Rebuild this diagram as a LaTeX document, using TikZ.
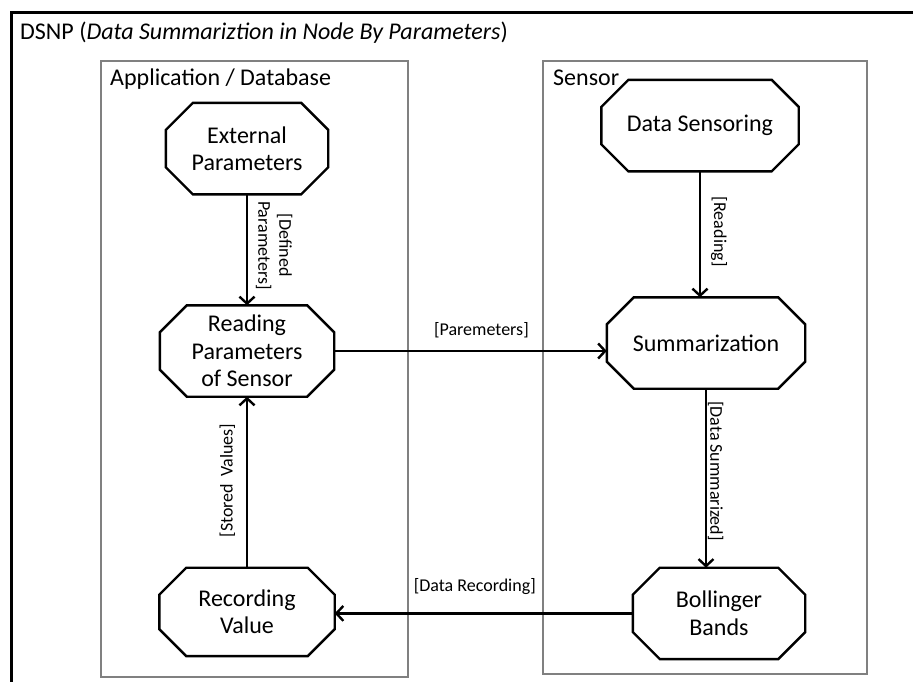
\documentclass[tikz,border=0pt]{standalone}
\usepackage{fontspec}
\setmainfont{Carlito}
\usetikzlibrary{positioning,arrows.meta}

% octagon drawn round a named rectangle node
\newcommand{\drawoct}[1]{%
  \draw[outline] ([xshift=27pt]#1.north west) -- ([xshift=-27pt]#1.north east)
    -- ([yshift=-27pt]#1.north east) -- ([yshift=27pt]#1.south east)
    -- ([xshift=-27pt]#1.south east) -- ([xshift=27pt]#1.south west)
    -- ([yshift=27pt]#1.south west) -- ([yshift=-27pt]#1.north west) -- cycle;}

\begin{document}
\begin{tikzpicture}[x=1pt,y=-1pt]
    \tikzstyle{state}=[rectangle, minimum height=91pt, inner sep=0pt, align=center, font=\fontsize{24}{27.5}\selectfont]
    \tikzstyle{outline}=[line width=2.4pt, line join=miter]
    \tikzstyle{connect}=[-{Straight Barb[length=7pt,width=15pt]}, line width=2.4pt]
    \tikzstyle{box}=[draw=black!50, line width=1.1pt]
    \tikzstyle{lbl}=[font=\fontsize{18}{21}\selectfont, inner sep=1pt, align=center]
    \tikzstyle{heading}=[anchor=base west, inner sep=0pt, font=\fontsize{24}{28}\selectfont]
    \useasboundingbox (0,0) rectangle (913,682);
    % frames
    \draw[line width=3pt] (11,13) rectangle (940,710);
    \draw[box] (101,61) rectangle (408,677);
    \draw[box] (543,61) rectangle (867,674);
    \node[heading] (title) at (20,40) {DSNP (\textit{Data Summariztion in Node By Parameters})};
    \node[heading] (app) at (110,86) {Application / Database};
    \node[heading] (sen) at (553,86) {Sensor};
    % states
    \node[state, minimum width=174pt] (rp) at (247,351) {Reading\\Parameters\\of Sensor};
    \node[state, minimum width=162pt] (ep) [above=111pt of rp] {External\\Parameters};
    \node[state, minimum width=175pt, minimum height=88pt] (rv) [below=171pt of rp] {Recording\\Value};
    \node[state, minimum width=198pt] (summ) at (706,343) {Summarization};
    \node[state, minimum width=197pt] (ds) [above=126pt of summ, xshift=-6pt] {Data Sensoring};
    \node[state, minimum width=172pt] (bb) [below=179pt of summ, xshift=13pt] {Bollinger\\Bands};
    \foreach \n in {ep,rp,rv,ds,summ,bb} \drawoct{\n};
    % flows
    \path (ep) edge [connect] node[lbl, pos=0.46, rotate=-90, anchor=south, outer sep=8pt] {[Defined\\Parameters]} (rp);
    \path (ds.south) edge [connect] node[lbl, pos=0.48, rotate=-90, anchor=south, outer sep=10pt] {[Reading]} (ds.south |- summ.north);
    \path (summ.south) edge [connect] node[lbl, pos=0.46, rotate=-90, anchor=south, outer sep=1pt] {[Data Summarized]} (summ.south |- bb.north);
    \path (rv) edge [connect] node[lbl, pos=0.51, rotate=90, anchor=south, outer sep=11pt] {[Stored\, Values]} (rp);
    \path (rp.east) edge [connect] node[lbl, pos=0.54, anchor=south, outer sep=12pt] {[Paremeters]} (rp.east -| summ.west);
    \path (bb.west) edge [connect] node[lbl, pos=0.53, anchor=south, outer sep=18pt] {[Data Recording]} (bb.west -| rv.east);
\end{tikzpicture}
\end{document}
